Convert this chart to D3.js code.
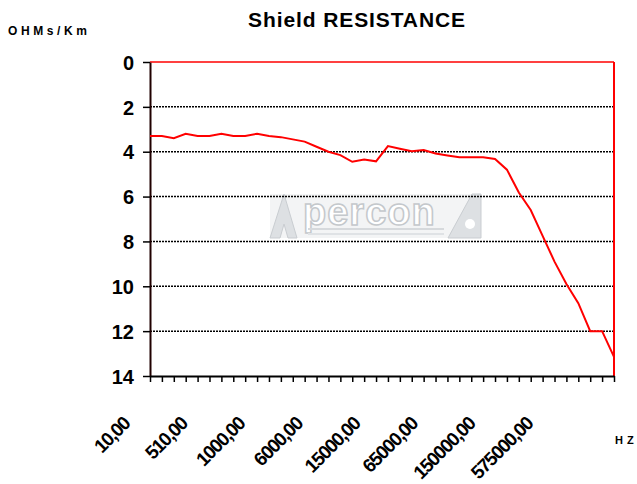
<!DOCTYPE html>
<html>
<head>
<meta charset="utf-8">
<script src="https://cdn.jsdelivr.net/npm/d3@7"></script>
<style>
  body { margin: 0; background: #fff; }
  text { font-family: "Liberation Sans", Arial, sans-serif; font-weight: bold; }
</style>
</head>
<body>
<div id="chart"></div>
<script>
var freqLabels = ["10,00", "510,00", "1000,00", "6000,00", "15000,00", "65000,00", "150000,00", "575000,00"];
var resistance = [3.3, 3.3, 3.4, 3.2, 3.3, 3.3, 3.2, 3.3, 3.3, 3.2,
                  3.3, 3.35, 3.45, 3.55, 3.78, 4.0, 4.15, 4.45, 4.35, 4.43,
                  3.75, 3.87, 3.98, 3.92, 4.08, 4.17, 4.25, 4.25, 4.25, 4.32,
                  4.8, 5.82, 6.6, 7.75, 8.9, 9.9, 10.75, 12.0, 12.0, 13.15];
var yTicks = [0, 2, 4, 6, 8, 10, 12, 14];

var svg = d3.select("#chart")
        .append("svg")
        .attr("width", 637)
        .attr("height", 484)

var x = d3.scalePoint().domain(d3.range(resistance.length)).range([150, 614]);
var y = d3.scaleLinear().domain([0, 14]).range([62, 376]);
var labelX = d3.scalePoint().domain(freqLabels).range([131, 534]);

// watermark logo
var logo = svg.append("g").attr("transform", "translate(270,194)")
logo.append("rect").attr("x", 0).attr("y", 0).attr("width", 211).attr("height", 44)
    .attr("fill", "#f3f4f5")
logo.append("polygon")
    .attr("points", "0,44 14,0 27,44 18,44 14,30 10,44")
    .attr("fill", "#dde0e3").attr("stroke", "#c9cdd1")
logo.append("polygon")
    .attr("points", "178,44 202,0 211,0 211,44")
    .attr("fill", "#dde0e3").attr("stroke", "#c9cdd1")
logo.append("circle").attr("cx", 200).attr("cy", 30).attr("r", 5).attr("fill", "#fff")
logo.append("text")
    .attr("x", 33).attr("y", 31)
    .attr("font-size", 38)
    .attr("letter-spacing", 1)
    .attr("fill", "#fff")
    .attr("stroke", "#c4c8cc")
    .attr("stroke-width", 1.5)
    .text("percon")
logo.append("rect").attr("x", 38).attr("y", 34).attr("width", 136).attr("height", 2).attr("fill", "#d6d9dc")
logo.append("rect").attr("x", 38).attr("y", 39).attr("width", 136).attr("height", 2).attr("fill", "#dfe2e5")

// grid lines
svg.append("g").selectAll(".grid")
    .data(yTicks.filter(function(d) { return d > 0 && d < 14 }))
    .enter()
    .append("line")
    .attr("class", "grid")
    .attr("x1", 150).attr("x2", 614)
    .attr("y1", function(d) { return y(d) })
    .attr("y2", function(d) { return y(d) })
    .attr("stroke", "#000")
    .attr("stroke-width", 1.5)
    .attr("stroke-dasharray", "2,1")

// red frame top and right
svg.append("line").attr("x1", 150).attr("x2", 614).attr("y1", y(0)).attr("y2", y(0))
    .attr("stroke", "#ff0000").attr("stroke-width", 1.5)
svg.append("line").attr("x1", 614).attr("x2", 614).attr("y1", y(0)).attr("y2", y(14))
    .attr("stroke", "#ff0000").attr("stroke-width", 2)

// axes
var yAxis = svg.append("g")
    .attr("transform", "translate(150,0)")
    .call(d3.axisLeft(y).tickValues(yTicks).tickSize(7).tickSizeOuter(0).tickPadding(9))
yAxis.select(".domain").attr("stroke", "#200000").attr("stroke-width", 2)
yAxis.selectAll(".tick line").attr("stroke", "#000").attr("stroke-width", 1.5)
yAxis.selectAll("text").attr("font-size", 20).attr("fill", "#000").attr("dy", "0.36em")

var xAxis = svg.append("g")
    .attr("transform", "translate(0,376)")
    .call(d3.axisBottom(x).tickFormat("").tickSize(6).tickSizeOuter(0))
xAxis.select(".domain").attr("stroke", "#000").attr("stroke-width", 2)
xAxis.selectAll(".tick line").attr("stroke", "#000").attr("stroke-width", 1.5)

svg.append("g").selectAll(".xlab")
    .data(freqLabels)
    .enter()
    .append("text")
    .attr("class", "xlab")
    .attr("transform", function(d) { return "translate(" + labelX(d) + ",425) rotate(-45)" })
    .attr("text-anchor", "end")
    .attr("font-size", 19)
    .attr("letter-spacing", -1.3)
    .text(function(d) { return d })

// the line
var line = d3.line()
    .x(function(d, i) { return x(i) })
    .y(function(d) { return y(d) })
svg.append("path")
    .datum(resistance)
    .attr("d", line)
    .attr("fill", "none")
    .attr("stroke", "#ff0000")
    .attr("stroke-width", 2)

// titles
svg.append("text")
    .attr("x", 357).attr("y", 27)
    .attr("text-anchor", "middle")
    .attr("font-size", 21)
    .attr("letter-spacing", 0.9)
    .text("Shield RESISTANCE")
svg.append("text")
    .attr("x", 8).attr("y", 35)
    .attr("font-size", 12)
    .attr("letter-spacing", 3.6)
    .text("OHMs/Km")
svg.append("text")
    .attr("x", 615).attr("y", 444)
    .attr("font-size", 11)
    .attr("letter-spacing", 4)
    .text("HZ")
</script>
</body>
</html>
